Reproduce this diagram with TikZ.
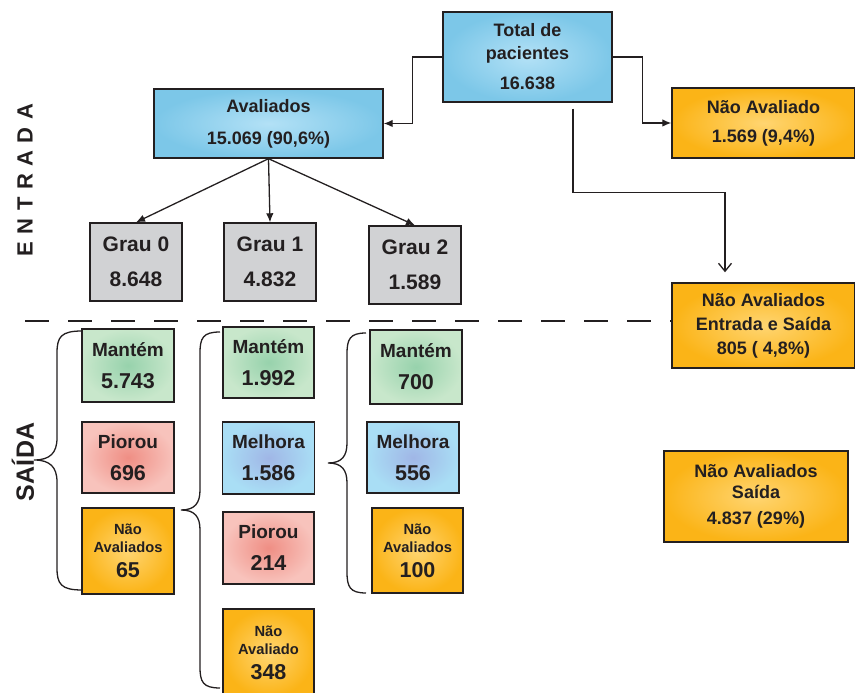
\documentclass[tikz,border=0pt]{standalone}
\usepackage{fontspec}
\setmainfont{Liberation Sans}
\usepackage{tikz}
\usetikzlibrary{positioning, arrows, arrows.meta}
\definecolor{tinta}{HTML}{231F20}
\definecolor{azulfora}{HTML}{7CC7E8}
\definecolor{azuldentro}{HTML}{B3E1F6}
\definecolor{cinza}{HTML}{D1D2D4}
\definecolor{laranjafora}{HTML}{FBB417}
\definecolor{laranjadentro}{HTML}{FFD571}
\definecolor{verdefora}{HTML}{C8E7CB}
\definecolor{verdedentro}{HTML}{97D2AC}
\definecolor{rosafora}{HTML}{F8C3BC}
\definecolor{rosadentro}{HTML}{EF8E84}
\definecolor{celestefora}{HTML}{A9DEF5}
\definecolor{celestedentro}{HTML}{A0B6E6}
\tikzstyle{caixa}=[draw=tinta, line width=1.4pt, text=tinta, align=center, inner sep=0pt, minimum width=92pt]
\tikzstyle{azul}=[caixa, inner color=azuldentro, outer color=azulfora]
\tikzstyle{grau}=[caixa, fill=cinza, minimum height=78pt, font=\fontsize{21}{25}\selectfont\bfseries]
\tikzstyle{laranja}=[caixa, inner color=laranjadentro, outer color=laranjafora]
\tikzstyle{mantem}=[caixa, inner color=verdedentro, outer color=verdefora, font=\fontsize{19}{23}\selectfont\bfseries]
\tikzstyle{piorou}=[caixa, inner color=rosadentro, outer color=rosafora, font=\fontsize{19}{23}\selectfont\bfseries]
\tikzstyle{melhora}=[caixa, inner color=celestedentro, outer color=celestefora, font=\fontsize{19}{23}\selectfont\bfseries]
\tikzstyle{naoav}=[laranja, font=\fontsize{14.7}{18}\selectfont\bfseries]
\tikzstyle{linha}=[draw=tinta, line width=1.3pt]
\tikzstyle{chave}=[draw=tinta, line width=1.3pt]
\newcommand{\numero}{\fontsize{21.5}{22}\selectfont}

\begin{document}
\begin{tikzpicture}[x=1pt, y=1pt, node distance=92pt, > = {Latex[length=9pt,width=7.5pt]}]
\useasboundingbox (0,0) rectangle (855,693);
% entrada
\node [azul, minimum width=169pt, minimum height=90pt, font=\fontsize{18}{23}\selectfont\bfseries] (total) at (527.5,636) {Total de\\pacientes\\[7pt]16.638};
\node [azul, minimum width=229pt, minimum height=69pt, font=\fontsize{18}{23}\selectfont\bfseries] (aval) at (268.5,569.5) {Avaliados\\[9pt]15.069 (90,6\%)};
\node [laranja, minimum width=183pt, minimum height=70pt, font=\fontsize{18}{23}\selectfont\bfseries] (naoaval) at (763.5,570) {Não Avaliado\\[6pt]1.569 (9,4\%)};
\node [grau] (grau0) at (136,431) {Grau 0\\[10pt]8.648};
\node [grau] (grau1) [right of=grau0, node distance=134pt] {Grau 1\\[10pt]4.832};
\node [grau, yshift=-3pt] (grau2) [right of=grau1, node distance=145pt] {Grau 2\\[10pt]1.589};
\node [laranja, minimum width=183pt, minimum height=85pt, font=\fontsize{18}{24}\selectfont\bfseries] (naoes) [below of=naoaval, node distance=202.5pt] {Não Avaliados\\Entrada e Saída\\805 ( 4,8\%)};
% saida
\node [mantem, minimum height=73pt] (mant0) at (128,327.5) {Mantém\\[9pt]\numero 5.743};
\node [piorou, minimum height=71pt] (pior0) [below of=mant0] {Piorou\\[9pt]\numero 696};
\node [naoav, minimum height=86pt] (nao0) [below of=pior0, node distance=93.5pt] {Não\\Avaliados\\[7pt]\numero 65};
\node [mantem, minimum width=91pt, minimum height=71pt] (mant1) at (268.5,330.5) {Mantém\\[9pt]\numero 1.992};
\node [melhora, minimum height=72pt] (melh1) [below of=mant1, node distance=95.5pt] {Melhora\\[9pt]\numero 1.586};
\node [piorou, minimum width=91pt, minimum height=72pt] (pior1) [below of=melh1, node distance=90pt] {Piorou\\[9pt]\numero 214};
\node [naoav, minimum width=91pt, minimum height=88pt] (nao1) [below of=pior1, node distance=105pt] {Não\\Avaliado\\[7pt]\numero 348};
\node [mantem, minimum height=74pt] (mant2) at (416,326) {Mantém\\[9pt]\numero 700};
\node [melhora, minimum height=71pt] (melh2) at (413,235.5) {Melhora\\[9pt]\numero 556};
\node [naoav, minimum width=91pt, minimum height=85pt] (nao2) at (417.5,142.5) {Não\\Avaliados\\[7pt]\numero 100};
\node [laranja, minimum width=184pt, minimum height=91pt, font=\fontsize{18}{21}\selectfont\bfseries] (naosai) at (756,196.5) {Não Avaliados\\Saída\\[5pt]4.837 (29\%)};
% rotulos laterais
\node [rotate=90, text=tinta, font=\fontsize{22}{22}\selectfont\bfseries] (entrada) at (25,513) {E\kern7.5pt N\kern7.5pt T\kern7.5pt R\kern7.5pt A\kern7.5pt D\kern7.5pt A};
\node [rotate=90, text=tinta, font=\fontsize{25}{25}\selectfont\bfseries] (saida) at (23,231) {S\kern0.5pt A\kern0.5pt Í\kern0.5pt D\kern0.5pt A};
% setas
\draw [linha, ->] (total.west) -- ++(-30,0) |- (aval.east);
\draw [linha, ->] (total.east) -- ++(30,0) |- (naoaval.west);
\draw [linha, -{Straight Barb[length=8pt,width=13pt]}] ([xshift=45.5pt,yshift=-6pt]total.south) -- ++(0,-84) -| ([xshift=-38.5pt,yshift=10pt]naoes.north);
\draw [linha, ->] (aval.south) -- (grau0.north);
\draw [linha, ->] (aval.south) -- (grau1.north);
\draw [linha, ->] (aval.south) -- (grau2.north);
% divisao
\coordinate (tracoini) at (25,372);
\draw [linha, dash pattern=on 24pt off 19pt] (tracoini) -- (tracoini -| naoes.west);
% chaves
\draw [chave] (82,362) .. controls (61,362) and (57,356) .. (57,340) -- (57,255) .. controls (57,240) and (50,233) .. (34,233) .. controls (50,233) and (57,226) .. (57,211) -- (57,125) .. controls (57,109) and (61,103) .. (82,103);
\draw [chave] (220,361) .. controls (203,361) and (200,355) .. (200,340) -- (200,203) .. controls (200,190) and (195,183) .. (181,183) .. controls (195,183) and (200,176) .. (200,163) -- (200,26) .. controls (200,11) and (203,5) .. (220,5);
\draw [chave] (366,360) .. controls (350,360) and (347,354) .. (347,339) -- (347,250) .. controls (347,237) and (342,230) .. (328,230) .. controls (342,230) and (347,223) .. (347,210) -- (347,121) .. controls (347,106) and (350,100) .. (366,100);
\end{tikzpicture}
\end{document}
